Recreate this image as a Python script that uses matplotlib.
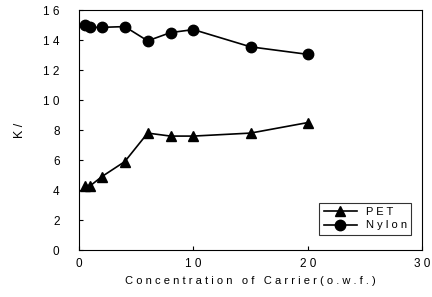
import numpy as np
import matplotlib
matplotlib.use("Agg")
import matplotlib.pyplot as plt

plt.rcParams['font.family'] = ['Liberation Sans', 'DejaVu Sans']

conc = [0.5, 1, 2, 4, 6, 8, 10, 15, 20]
pet = [4.3, 4.3, 4.9, 5.9, 7.8, 7.6, 7.6, 7.8, 8.5]
nylon = [15.0, 14.85, 14.85, 14.9, 13.95, 14.5, 14.7, 13.55, 13.05]

fig = plt.figure(figsize=(4.32, 2.97), dpi=100)
ax = fig.add_axes([0.183, 0.158, 0.794, 0.808])

ax.plot(conc, pet, color='black', marker='^', markersize=7.5, linewidth=1.2, label='P E T')
ax.plot(conc, nylon, color='black', marker='o', markersize=7.5, linewidth=1.2, label='N y l o n')

ax.set_xlim(0, 30)
ax.set_ylim(0, 16)
ax.set_xticks([0, 10, 20, 30])
ax.set_xticklabels(['0', '1 0', '2 0', '3 0'])
ax.set_yticks(range(0, 17, 2))
ax.set_yticklabels(['0', '2', '4', '6', '8', '1 0', '1 2', '1 4', '1 6'])
ax.tick_params(direction='in', length=3, labelsize=8.5, width=0.8)
ax.tick_params(axis='y', pad=14)
ax.tick_params(axis='x', pad=6)

ax.set_xlabel('C o n c e n t r a t i o n   o f   C a r r i e r ( o . w . f . )', fontsize=8)
ax.set_ylabel('K /', fontsize=9, labelpad=12)

leg = ax.legend(loc='lower right', bbox_to_anchor=(0.985, 0.04), fontsize=8,
                frameon=True, fancybox=False, edgecolor='black', handlelength=3,
                borderpad=0.4, labelspacing=0.3)
leg.get_frame().set_linewidth(0.8)

fig.savefig('out.png', dpi=100)
